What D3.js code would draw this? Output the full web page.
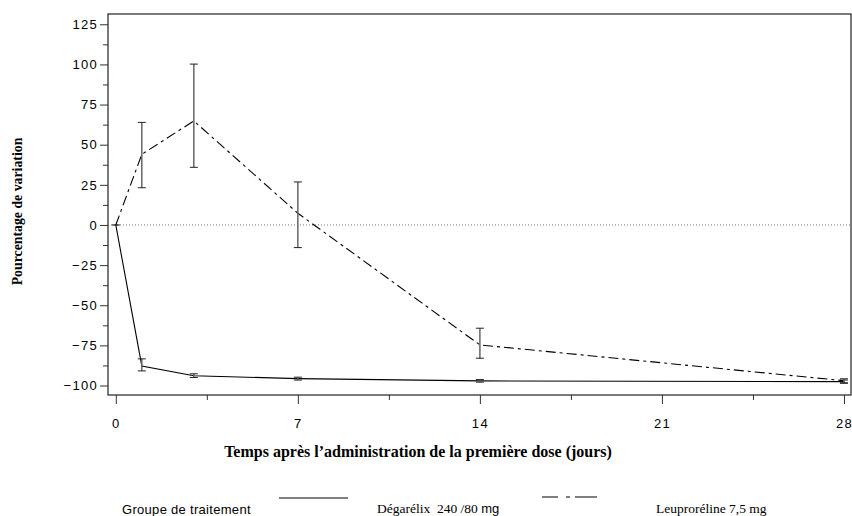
<!DOCTYPE html>
<html>
<head>
<meta charset="utf-8">
<script src="https://cdn.jsdelivr.net/npm/d3@7"></script>
<style>
  body { margin: 0; background: #fff; }
  .tick text { font-family: "Liberation Sans", Arial, sans-serif; font-size: 13px; letter-spacing: 1.3px; fill: #000; }
</style>
</head>
<body>
<div class="chart"></div>
<script>
// DATA ------------------------------
const days = [0, 1, 3, 7, 14, 28];

const degMean = [0, -87.8, -93.9, -95.7, -97.1, -97.6];
const degLow  = [0, -90.9, -95.0, -96.6, -97.9, -98.6];
const degHigh = [0, -83.4, -92.7, -94.8, -96.3, -96.6];

const leuMean = [0, 44.0, 64.8, 7.3, -74.7, -97.0];
const leuLow  = [0, 23.2, 35.9, -14.1, -83.0, -98.3];
const leuHigh = [0, 63.9, 100.2, 26.8, -64.3, -95.8];

const xMajor = [0, 7, 14, 21, 28];
const xMinor = [3.5, 10.5, 17.5, 24.5];
const yMajor = [-100, -75, -50, -25, 0, 25, 50, 75, 100, 125];
const yMinor = [-87.5, -62.5, -37.5, -12.5, 12.5, 37.5, 62.5, 87.5, 112.5];

const seriesNames = ["Dégarélix  240 /80 ", "Leuproréline 7,5 mg"];

// SETUP ------------------------------
const W = 852, H = 516;
const margin = ({top: 14, right: 1, bottom: 121, left: 108});
const width = W - margin.left - margin.right,
    height = H - margin.top - margin.bottom;

const svg = d3.select(".chart")
    .append("svg")
    .attr("width", W)
    .attr("height", H);

const g = svg.append("g")
    .attr("transform", "translate(" + margin.left + "," + margin.top + ")");

const xScale = d3.scaleLinear()
    .domain([-0.3, 28.27])
    .range([0, width]);

const yScale = d3.scaleLinear()
    .domain([-105.9, 131.4])
    .range([height, 0]);

// axes
g.append("g")
    .attr("class", "axis x-axis")
    .attr("transform", "translate(0," + height + ")")
    .call(d3.axisBottom(xScale).tickValues(xMajor).tickSize(9).tickPadding(15).tickSizeOuter(0));

g.append("g")
    .attr("class", "axis x-minor")
    .attr("transform", "translate(0," + height + ")")
    .call(d3.axisBottom(xScale).tickValues(xMinor).tickSize(5).tickFormat("").tickSizeOuter(0));

g.append("g")
    .attr("class", "axis y-axis")
    .call(d3.axisLeft(yScale).tickValues(yMajor).tickSize(8).tickPadding(2).tickSizeOuter(0));

g.append("g")
    .attr("class", "axis y-minor")
    .call(d3.axisLeft(yScale).tickValues(yMinor).tickSize(5).tickFormat("").tickSizeOuter(0));

g.selectAll(".axis .domain").remove();
g.selectAll(".axis line").attr("stroke", "#333");

// frame
g.append("rect")
    .attr("width", width)
    .attr("height", height)
    .attr("fill", "none")
    .attr("stroke", "#222")
    .attr("stroke-width", 1.2);

// zero reference line
g.append("line")
    .attr("x1", 0).attr("x2", width)
    .attr("y1", yScale(0)).attr("y2", yScale(0))
    .attr("stroke", "#777")
    .attr("stroke-dasharray", "1,2");

// SERIES ------------------------------
function drawSeries(mean, low, high, dash) {
    const pts = days.map((d, i) => ({day: d, mean: mean[i], low: low[i], high: high[i]}));

    const line = d3.line()
        .x(d => xScale(d.day))
        .y(d => yScale(d.mean));

    g.append("path")
        .datum(pts)
        .attr("d", line)
        .attr("fill", "none")
        .attr("stroke", "#000")
        .attr("stroke-width", 1.1)
        .attr("stroke-dasharray", dash);

    const bars = g.selectAll(null)
        .data(pts.filter(d => d.high !== d.low))
        .enter()
        .append("g");

    bars.append("line")
        .attr("x1", d => xScale(d.day)).attr("x2", d => xScale(d.day))
        .attr("y1", d => yScale(d.low)).attr("y2", d => yScale(d.high))
        .attr("stroke", "#666")
        .attr("stroke-width", 1.5);

    bars.append("line")
        .attr("x1", d => xScale(d.day) - 4).attr("x2", d => xScale(d.day) + 4)
        .attr("y1", d => yScale(d.low)).attr("y2", d => yScale(d.low))
        .attr("stroke", "#222");

    bars.append("line")
        .attr("x1", d => xScale(d.day) - 4).attr("x2", d => xScale(d.day) + 4)
        .attr("y1", d => yScale(d.high)).attr("y2", d => yScale(d.high))
        .attr("stroke", "#222");
}

drawSeries(degMean, degLow, degHigh, null);
drawSeries(leuMean, leuLow, leuHigh, "10,4,3,4");

// baseline marker
g.append("path")
    .attr("d", "M" + (xScale(0) - 4) + "," + yScale(0) + "h8")
    .attr("stroke", "#000");

// TITLES ------------------------------
svg.append("text")
    .attr("x", 418)
    .attr("y", 457)
    .attr("text-anchor", "middle")
    .style("font-family", "'Liberation Serif', 'Times New Roman', serif")
    .style("font-weight", "bold")
    .style("font-size", "16px")
    .text("Temps après l’administration de la première dose (jours)");

svg.append("text")
    .attr("transform", "translate(22,211.5) rotate(-90)")
    .attr("text-anchor", "middle")
    .style("font-family", "'Liberation Serif', 'Times New Roman', serif")
    .style("font-weight", "bold")
    .style("font-size", "13.8px")
    .text("Pourcentage de variation");

// LEGEND ------------------------------
const legend = svg.append("g");

legend.append("text")
    .attr("x", 122).attr("y", 514)
    .style("font-family", "'Liberation Sans', Arial, sans-serif")
    .style("font-size", "13px")
    .style("letter-spacing", "0.3px")
    .text("Groupe de traitement");

legend.append("line")
    .attr("x1", 279).attr("x2", 348)
    .attr("y1", 498).attr("y2", 498)
    .attr("stroke", "#000");

const t1 = legend.append("text")
    .attr("x", 377).attr("y", 513)
    .style("font-family", "'Liberation Serif', 'Times New Roman', serif")
    .style("font-size", "13.5px")
    .style("white-space", "pre")
    .text(seriesNames[0]);
t1.append("tspan")
    .style("font-family", "'Liberation Sans', Arial, sans-serif")
    .style("font-size", "13px")
    .text("mg");

legend.append("line")
    .attr("x1", 542).attr("x2", 597)
    .attr("y1", 497).attr("y2", 497)
    .attr("stroke", "#000")
    .attr("stroke-dasharray", "16,8,4,5,22");

legend.append("text")
    .attr("x", 656).attr("y", 513)
    .style("font-family", "'Liberation Serif', 'Times New Roman', serif")
    .style("font-size", "13.5px")
    .text(seriesNames[1]);
</script>
</body>
</html>
